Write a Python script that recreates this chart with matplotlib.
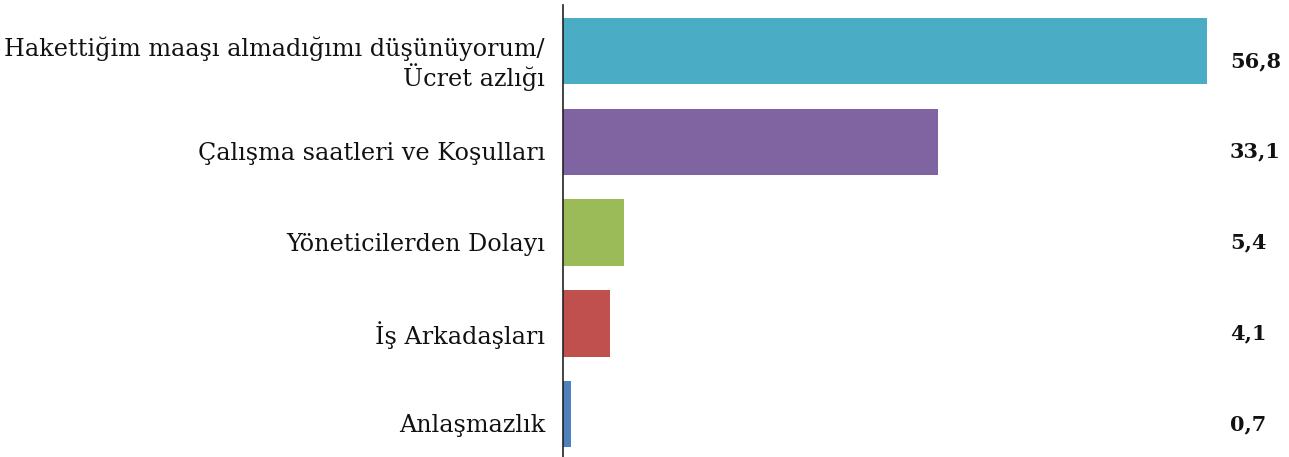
import matplotlib
matplotlib.use("Agg")
import matplotlib.pyplot as plt
from matplotlib.transforms import ScaledTranslation

# Veriler
categories = [
    "Hakettiğim maaşı almadığımı düşünüyorum/\nÜcret azlığı",
    "Çalışma saatleri ve Koşulları",
    "Yöneticilerden Dolayı",
    "İş Arkadaşları",
    "Anlaşmazlık",
]
values = [56.8, 33.1, 5.4, 4.1, 0.7]
value_labels = ["56,8", "33,1", "5,4", "4,1", "0,7"]
colors = ["#4BACC6", "#8064A2", "#9BBB59", "#C0504D", "#4F81BD"]

plt.rcParams['font.family'] = ['DejaVu Serif']

fig = plt.figure(figsize=(12.89, 4.57), dpi=100)
ax = fig.add_axes([563 / 1289, 0, 1 - 563 / 1289, 1 - 5 / 457])

ypos = list(range(len(categories)))
ax.barh(ypos, values, height=0.73, color=colors)

ax.set_xlim(0, 64)
ax.set_ylim(4.47, -0.505)

ax.set_yticks(ypos)
ax.set_yticklabels(categories, fontsize=17.2, color="#111111", linespacing=1.12)
ax.tick_params(axis='y', length=0, pad=13)
ax.set_xticks([])

# etiketleri biraz aşağı kaydır
shift = ScaledTranslation(0, -9 / 100, fig.dpi_scale_trans)
for lab in ax.get_yticklabels():
    lab.set_transform(lab.get_transform() + shift)

for s in ['top', 'right', 'bottom']:
    ax.spines[s].set_visible(False)
ax.spines['left'].set_linewidth(1.2)
ax.spines['left'].set_color("#222222")

for y, lab in zip(ypos, value_labels):
    ax.text(58.8, y + 0.11, lab, ha='left', va='center', fontsize=15,
            fontweight='bold', color="#111111")

fig.savefig("out.png", dpi=100)
